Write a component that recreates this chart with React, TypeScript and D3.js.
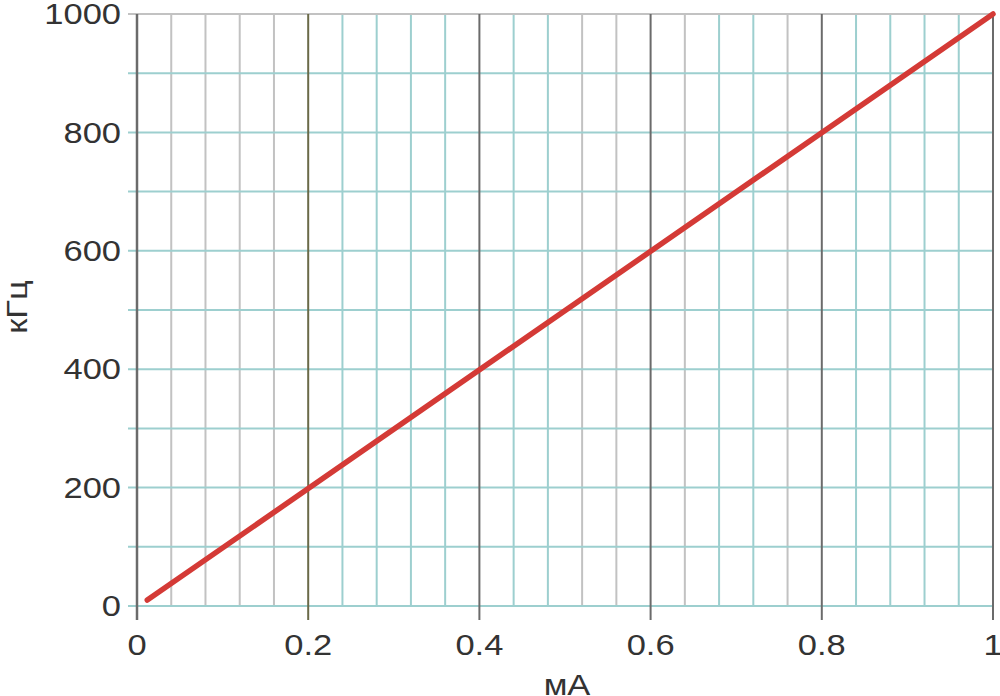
// @ts-nocheck
import * as d3 from "d3";

// data
const currentMA = [0.012, 1];
const freqKHz = [10, 1000];

const xTicks = [0, 0.2, 0.4, 0.6, 0.8, 1];
const xTickLabels = ["0", "0.2", "0.4", "0.6", "0.8", "1"];
const yTicks = [0, 200, 400, 600, 800, 1000];
const yTickLabels = ["0", "200", "400", "600", "800", "1000"];
const xMinor = d3.range(1, 25).map((i) => i * 0.04).filter((v) => Math.abs((v / 0.2) - Math.round(v / 0.2)) > 1e-6);
const yMinor = d3.range(1, 11).map((i) => i * 100);
const grayMinor = [0.04, 0.08, 0.12, 0.16, 0.52, 0.56, 0.64, 0.76];

const xLabel = "мА";
const yLabel = "кГц";

const W = 1000, H = 696;
const margin = { top: 14, right: 7, bottom: 90, left: 137 };
const FONT = "'Liberation Sans', Arial, sans-serif";
const SX = 1.15; // the reference glyphs look a bit stretched sideways

const App = () => {
    const xScale = d3.scaleLinear().domain([0, 1]).range([margin.left, W - margin.right]);
    const yScale = d3.scaleLinear().domain([0, 1000]).range([H - margin.bottom, margin.top]);

    const lineBuilder = d3.line().x((d) => xScale(d[0])).y((d) => yScale(d[1]));
    const pts = currentMA.map((v, i) => [v, freqKHz[i]]);

    const isGray = (v) => grayMinor.some((g) => Math.abs(g - v) < 1e-6);
    const y0 = yScale(0), yTop = yScale(1000);

    return (
        <svg width={W} height={H} style={{ position: "absolute", left: 0, top: 0, background: "#fff" }}>
            {/* minor vertical grid */}
            {xMinor.map((v) => (
                <line key={"vx" + v} x1={xScale(v)} x2={xScale(v)} y1={yTop} y2={y0}
                    stroke={isGray(v) ? "#c2c2c2" : "#9dcfcf"} strokeWidth={2} />
            ))}
            {/* horizontal grid, runs a little past the left edge as ticks */}
            {yMinor.map((v) => (
                <line key={"hy" + v} x1={xScale(0) - 9} x2={xScale(1)} y1={yScale(v)} y2={yScale(v)}
                    stroke={v === 1000 ? "#c2c2c2" : "#9dcfcf"} strokeWidth={2} />
            ))}
            <line x1={xScale(0) - 9} x2={xScale(1)} y1={y0} y2={y0} stroke="#9dcfcf" strokeWidth={2} />
            {/* major verticals */}
            {xTicks.map((v) => (
                <line key={"mx" + v} x1={xScale(v)} x2={xScale(v)} y1={yTop} y2={y0 + 14}
                    stroke={v === 0.2 ? "#6a6a48" : "#6b6b6b"} strokeWidth={v === 0 ? 2.5 : 2} />
            ))}

            <path d={lineBuilder(pts)} fill="none" stroke="#d43a36" strokeWidth={5.5} strokeLinecap="round" />

            {yTicks.map((v, i) => (
                <text key={"yl" + v} transform={`translate(121,${yScale(v)}) scale(${SX},1)`}
                    textAnchor="end" dominantBaseline="central" fontFamily={FONT} fontSize={30} fill="#333">
                    {yTickLabels[i]}
                </text>
            ))}
            {xTicks.map((v, i) => (
                <text key={"xl" + v} transform={`translate(${xScale(v)},655) scale(${SX},1)`}
                    textAnchor="middle" fontFamily={FONT} fontSize={30} fill="#333">
                    {xTickLabels[i]}
                </text>
            ))}
            <text transform={`translate(${xScale(0.5) + 2},695) scale(${SX},1)`} textAnchor="middle"
                fontFamily={FONT} fontSize={30} fill="#333">{xLabel}</text>
            <text transform={`translate(27,${yScale(500) - 3}) rotate(-90) scale(${SX},1)`} textAnchor="middle"
                fontFamily={FONT} fontSize={30} fill="#333">{yLabel}</text>
        </svg>
    );
};

export default App;
